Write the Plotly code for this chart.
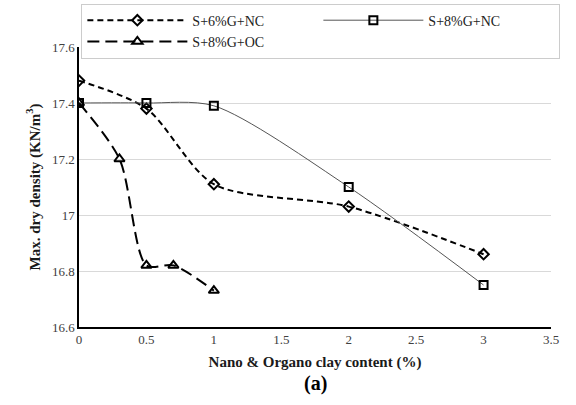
import plotly.graph_objects as go

x_nc6 = [0, 0.5, 1, 2, 3]
y_nc6 = [17.48, 17.38, 17.11, 17.03, 16.86]
x_nc8 = [0, 0.5, 1, 2, 3]
y_nc8 = [17.40, 17.40, 17.39, 17.10, 16.75]
x_oc8 = [0, 0.3, 0.5, 0.7, 1]
y_oc8 = [17.40, 17.20, 16.82, 16.82, 16.73]
names = ["S+6%G+NC", "S+8%G+NC", "S+8%G+OC"]
x_ticks = [0, 0.5, 1, 1.5, 2, 2.5, 3, 3.5]
y_ticks = [16.6, 16.8, 17, 17.2, 17.4, 17.6]

serif = "Times New Roman"

fig = go.Figure()
fig.add_trace(go.Scatter(
    x=x_nc6, y=y_nc6, name=names[0], mode="lines+markers",
    line=dict(color="black", width=2, dash="6px,4px", shape="spline", smoothing=0.8),
    marker=dict(symbol="diamond-open", size=8, color="black", line=dict(width=2, color="black")),
))
fig.add_trace(go.Scatter(
    x=x_nc8, y=y_nc8, name=names[1], mode="lines+markers",
    line=dict(color="#555555", width=1, shape="spline", smoothing=0.8),
    marker=dict(symbol="square-open", size=8, color="black", line=dict(width=2, color="black")),
))
fig.add_trace(go.Scatter(
    x=x_oc8, y=y_oc8, name=names[2], mode="lines+markers",
    line=dict(color="black", width=2, dash="12px,6px", shape="spline", smoothing=0.8),
    marker=dict(symbol="triangle-up-open", size=9, color="black", line=dict(width=2, color="black")),
))

fig.update_layout(
    width=576, height=405,
    margin=dict(l=79, r=25, t=47, b=78, autoexpand=False),
    paper_bgcolor="white", plot_bgcolor="white",
    font=dict(family=serif, size=13, color="#404040"),
    showlegend=True,
    legend=dict(
        orientation="h", x=0.005, y=1.155, xanchor="left", yanchor="top",
        entrywidth=0.5, entrywidthmode="fraction", itemwidth=100,
        bordercolor="#cccccc", borderwidth=1, bgcolor="white",
        font=dict(family=serif, size=14, color="#222222"),
        tracegroupgap=0, valign="middle",
    ),
    xaxis=dict(
        range=[0, 3.5], tickvals=x_ticks, ticktext=[str(v) for v in x_ticks],
        showgrid=False, zeroline=False, showline=True, linecolor="black", linewidth=1.5,
        ticks="", tickfont=dict(family=serif, size=13, color="#404040"),
        title=dict(text="<b>Nano & Organo clay content (%)</b>", font=dict(family=serif, size=15, color="#1a1a1a"), standoff=10),
    ),
    yaxis=dict(
        range=[16.6, 17.6], tickvals=y_ticks, ticktext=["16.6", "16.8", "17", "17.2", "17.4", "17.6"],
        showgrid=True, gridcolor="#d9d9d9", gridwidth=1, zeroline=False,
        showline=True, linecolor="black", linewidth=1.5,
        ticks="", tickfont=dict(family=serif, size=13, color="#404040"),
        title=dict(text="<b>Max. dry density (KN/m<sup>3</sup>)</b>", font=dict(family=serif, size=15, color="#1a1a1a"), standoff=8),
    ),
    annotations=[dict(
        text="<b>(a)</b>", xref="paper", yref="paper", x=0.5, y=-0.155,
        xanchor="center", yanchor="top", showarrow=False,
        font=dict(family=serif, size=20, color="black"),
    )],
)

fig.write_html("out.html")
